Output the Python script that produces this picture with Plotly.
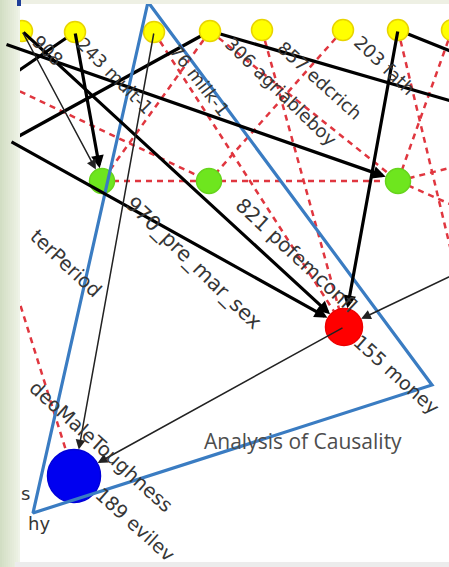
import plotly.graph_objects as go

W, H = 449, 567

# ---- network data (screen-pixel layout of the original diagram) ----
node_names = ["Y1", "Y2", "Y3", "Y4", "Y5", "Y6", "Y7", "Y8", "G1", "G2", "G3", "R", "B"]
node_x = [22, 75, 154, 210, 262, 343, 398, 452, 102, 209, 398, 344, 74]
node_y = [31, 32, 32, 31, 30, 30, 30, 30, 181, 181, 181, 327, 476]
node_kind = ["yellow"] * 8 + ["green"] * 3 + ["red", "blue"]

# nodes that lie outside the visible crop (edges run off the picture)
hidden_names = ["L1", "L2", "L3", "L4", "L5", "E1", "E2", "E3", "E4", "E5", "E6"]
hidden_x = [10, 5, 5, 14, 0, 520, 520, 520, 520, 520, 470]
hidden_y = [141, 44, 80, 285, 82, 243, 121, 79, 150, 235, 330]

thick_arrows = [("Y2", "G1"), ("Y1", "R"), ("L1", "R"), ("L2", "G3"), ("Y7", "R")]
thick_lines = [("L1", "Y4"), ("Y2", "L3"), ("Y4", "E2"), ("Y7", "E3")]
thin_arrows = [("Y1", "G1"), ("Y3", "B"), ("R", "B"), ("E1", "R")]
dashed_lines = [("Y3", "R"), ("Y5", "R"), ("Y4", "G1"), ("G1", "G2"), ("Y6", "G2"),
                ("G2", "G3"), ("Y8", "G3"), ("G3", "E4"), ("G3", "E5"), ("L5", "G2"),
                ("Y4", "G3"), ("Y7", "E6")]
dashed_arrows = [("L4", "B")]

label_text = ["908", "243 mult-1", "76 milk-1", "306 agriableboy", "857 edcrich", "203 fath",
              "756 father", "970_pre_mar_sex", "821 pofemconfl", "678 religion", "155 money",
              "189 evilev", "terPeriod", "deoMaleToughness"]

title_text = "Analysis of Causality"
side_text = ["s", "hy"]

# ---- styling / layout ----
pos = {n: (x, y) for n, x, y in zip(node_names, node_x, node_y)}
pos.update({n: (x, y) for n, x, y in zip(hidden_names, hidden_x, hidden_y)})
kind = dict(zip(node_names, node_kind))
fill = {"yellow": "#ffff00", "green": "#6ee61e", "red": "#ff0000", "blue": "#0000f0"}
ring = {"yellow": "#e8d400", "green": "#66d41c", "red": "#ee0000", "blue": "#0000d8"}
msize = {"yellow": 21, "green": 25, "red": 37, "blue": 53}
standoff = {"yellow": 11, "green": 13, "red": 19, "blue": 27}


def so(n):
    return standoff[kind[n]] if n in kind else 0


fig = go.Figure()


def seg_trace(edges, color, width, dash="solid"):
    xs, ys = [], []
    for a, b in edges:
        xs += [pos[a][0], pos[b][0], None]
        ys += [pos[a][1], pos[b][1], None]
    fig.add_trace(go.Scatter(x=xs, y=ys, mode="lines", hoverinfo="skip",
                             line=dict(color=color, width=width, dash=dash)))


RED_DASH = "#e0363f"
seg_trace(dashed_lines + dashed_arrows, RED_DASH, 2.5, "6px,5px")
seg_trace(thick_lines, "#000000", 3.2)

annotations = []


def arrow(a, b, color, width, size):
    annotations.append(dict(x=pos[b][0], y=pos[b][1], ax=pos[a][0], ay=pos[a][1],
                            xref="x", yref="y", axref="x", ayref="y", text="",
                            showarrow=True, arrowhead=2, arrowsize=size,
                            arrowwidth=width, arrowcolor=color, standoff=so(b)))


for a, b in thick_arrows:
    arrow(a, b, "#000000", 3.2, 0.8)
for a, b in thin_arrows:
    arrow(a, b, "#222222", 1.5, 1.3)
for a, b in dashed_arrows:
    # only the head: a short solid piece near the target
    bx, by = pos[b]
    axx, ayy = pos[a]
    t = 0.12
    annotations.append(dict(x=bx, y=by, ax=bx + (axx - bx) * t, ay=by + (ayy - by) * t,
                            xref="x", yref="y", axref="x", ayref="y", text="",
                            showarrow=True, arrowhead=2, arrowsize=1.0, arrowwidth=2.2,
                            arrowcolor=RED_DASH, standoff=so(b)))

# nodes
for k in ["yellow", "green", "red", "blue"]:
    xs = [x for x, kk in zip(node_x, node_kind) if kk == k]
    ys = [y for y, kk in zip(node_y, node_kind) if kk == k]
    fig.add_trace(go.Scatter(x=xs, y=ys, mode="markers", hoverinfo="skip",
                             marker=dict(size=msize[k], color=fill[k],
                                         line=dict(color=ring[k], width=1.5))))

# blue triangle overlay
tri = ["top", "right", "left", "top"]
tri_pts = {"top": (148, 2), "right": (432, 385), "left": (33, 513)}
fig.add_trace(go.Scatter(x=[tri_pts[t][0] for t in tri], y=[tri_pts[t][1] for t in tri],
                         mode="lines", hoverinfo="skip",
                         line=dict(color="#3a7cc2", width=3.2)))

# rotated node labels (center, angle, font size)
label_place = [(48, 50, 45, 18), (115, 75, 45, 18), (200, 80, 52, 18), (281, 91, 44, 18),
               (320, 80, 42, 18), (385, 65, 44, 18), (462, 80, 44, 18),
               (194, 263, 44, 20.5), (296, 255, 43, 20), (455, 240, 44, 19),
               (396, 374, 42, 19), (135, 524, 42, 19), (66, 263, 43, 19.5),
               (101, 446, 42, 19.5)]
for txt, (cx, cy, ang, fs) in zip(label_text, label_place):
    annotations.append(dict(x=cx, y=cy, xref="x", yref="y", text=txt, showarrow=False,
                            textangle=ang, xanchor="center", yanchor="middle",
                            font=dict(family="DejaVu Sans", size=fs, color="#363636")))

annotations.append(dict(x=32, y=493, xref="x", yref="y", text=side_text[0], showarrow=False,
                        xanchor="right", yanchor="middle",
                        font=dict(family="DejaVu Sans", size=18, color="#363636")))
annotations.append(dict(x=52, y=523, xref="x", yref="y", text=side_text[1], showarrow=False,
                        xanchor="right", yanchor="middle",
                        font=dict(family="DejaVu Sans", size=18, color="#363636")))
annotations.append(dict(x=303, y=441, xref="x", yref="y", text=title_text, showarrow=False,
                        xanchor="center", yanchor="middle",
                        font=dict(family="Open Sans", size=21, color="#4d4d4d")))

# frame strips of the screenshot
shapes = []
left_cols = ["#d2dec4", "#d6e1c8", "#d9e3cc", "#dce5cf", "#dfe7d3", "#e2e9d7",
             "#e5ebda", "#e8eede", "#ebf0e2", "#eff3e8"]
for i, c in enumerate(left_cols):
    shapes.append(dict(type="rect", xref="x", yref="y", x0=i * 2, x1=i * 2 + 2, y0=0, y1=H,
                       fillcolor=c, line=dict(width=0), layer="above"))
shapes.append(dict(type="rect", xref="x", yref="y", x0=20, x1=W, y0=0, y1=4,
                   fillcolor="#eef0e4", line=dict(width=0), layer="above"))
shapes.append(dict(type="rect", xref="x", yref="y", x0=17, x1=21, y0=0, y1=6,
                   fillcolor="#1f3f99", line=dict(width=0), layer="above"))
shapes.append(dict(type="rect", xref="x", yref="y", x0=15, x1=W, y0=562, y1=H,
                   fillcolor="#ececec", line=dict(width=0), layer="above"))

fig.update_layout(
    width=W, height=H, autosize=False,
    margin=dict(l=0, r=0, t=0, b=0),
    paper_bgcolor="#ffffff", plot_bgcolor="#ffffff",
    showlegend=False,
    xaxis=dict(range=[0, W], visible=False, fixedrange=True),
    yaxis=dict(range=[H, 0], visible=False, fixedrange=True),
    annotations=annotations, shapes=shapes,
)

fig.write_html("out.html", config={"displayModeBar": False},
               post_script="document.body.style.margin='0px';"
                           "document.body.style.overflow='hidden';")
